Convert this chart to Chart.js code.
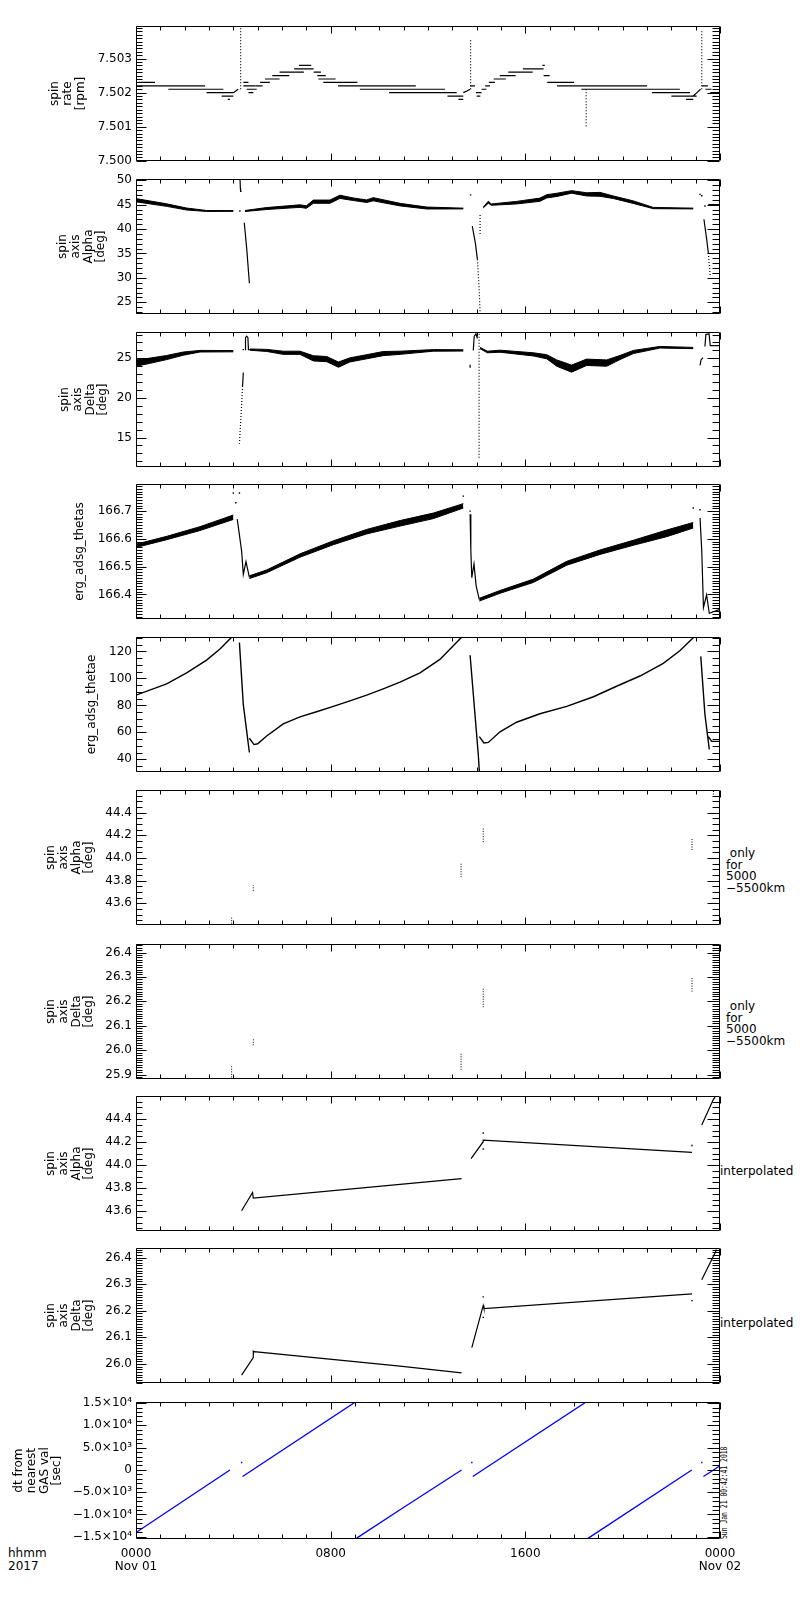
<!DOCTYPE html>
<html>
<head>
<meta charset="utf-8">
<script src="https://cdn.jsdelivr.net/npm/chart.js@4.4.1/dist/chart.umd.min.js"></script>
<style>
  body { margin: 0; background: #fff; width: 800px; height: 1600px; position: relative; overflow: hidden;
         font-family: "DejaVu Sans", sans-serif; color: #000; }
  canvas { position: absolute; left: 0; }
  .note { position: absolute; font-size: 12px; line-height: 11.5px; white-space: pre; }
  #stamp { position: absolute; left: 721px; top: 1539px; font: 8px "DejaVu Sans Mono", monospace;
           line-height: 7px; white-space: pre; transform-origin: left top; transform: rotate(-90deg) scaleX(0.8); }
</style>
</head>
<body>
<div class="note" style="left:8px; top:1547px; line-height:12.5px">hhmm
2017</div>
<div class="note" style="left:726px; top:848px"> only
for
5000
−5500km</div>
<div class="note" style="left:726px; top:1001px"> only
for
5000
−5500km</div>
<div class="note" style="left:720px; top:1166px">interpolated</div>
<div class="note" style="left:720px; top:1318px">interpolated</div>
<div id="stamp">Sun Jan 21 00:42:41 2018</div>

<script>
const FONT = "'DejaVu Sans', sans-serif";

// x axis: hours since 2017-11-01 00:00
const hourTicks = [0, 8, 16, 24];
const hourLabels = [["0000", "Nov 01"], ["0800"], ["1600"], ["0000", "Nov 02"]];

// spin rate [rpm] - quantised levels as [from h, to h, value]
const rateSteps = [
  [0, 2.84, 7.5022], [0.1, 0.78, 7.5023], [1.33, 3.59, 7.5021], [2.9, 4.0, 7.5020],
  [3.52, 4.0, 7.5019], [3.77, 3.86, 7.5018], [4.41, 4.62, 7.5023], [4.41, 4.89, 7.5022],
  [4.55, 4.96, 7.5021], [4.62, 4.82, 7.5020], [4.9, 5.2, 7.5022], [5.1, 5.5, 7.5023],
  [5.3, 5.9, 7.5024], [5.6, 6.3, 7.5025], [5.9, 6.9, 7.5026], [6.5, 7.3, 7.5027],
  [6.7, 7.2, 7.5028], [7.3, 7.6, 7.5026], [7.45, 7.8, 7.5025], [7.5, 8.2, 7.5024],
  [7.7, 9.1, 7.5023], [8.3, 11.5, 7.5022], [9.2, 12.7, 7.5021], [10.4, 13.18, 7.5020],
  [12.8, 13.45, 7.5019], [13.25, 13.45, 7.5018], [13.73, 13.93, 7.5022], [13.97, 14.2, 7.5020],
  [14.0, 14.15, 7.5019], [14.2, 14.4, 7.5021], [14.35, 14.55, 7.5022], [14.5, 14.75, 7.5023],
  [14.7, 15.2, 7.5024], [14.95, 15.6, 7.5025], [15.3, 16.3, 7.5026], [15.9, 16.75, 7.5027],
  [16.7, 16.8, 7.5028], [16.75, 17.0, 7.5025], [16.9, 18.0, 7.5023], [17.3, 21.0, 7.5022],
  [18.3, 22.35, 7.5021], [21.2, 22.77, 7.5020], [22.0, 23.04, 7.5019], [22.6, 22.9, 7.5018],
  [23.25, 23.5, 7.5022], [23.4, 23.65, 7.5021], [23.6, 24, 7.5020]
];
const rateRamps = [
  [[4.0, 7.5020], [4.1, 7.50205], [4.2, 7.5021]],
  [[13.45, 7.5020], [13.6, 7.50205], [13.73, 7.5021]],
  [[22.9, 7.5019], [23.05, 7.5020], [23.2, 7.5021]]
];
// [h, from, to]
const rateSpikes = [[4.30, 7.5021, 7.5039], [13.75, 7.5021, 7.5036], [18.5, 7.5021, 7.5010], [23.25, 7.5021, 7.5038]];

// spin axis alpha [deg] - noisy band as [h, low, high]
const alphaBands = [
  [[0, 45.57, 46.23], [1.26, 44.64, 45.16], [2.08, 43.9, 44.3], [2.9, 43.6, 43.8], [4.0, 43.62, 43.78]],
  [[4.48, 43.6, 43.8], [5.37, 44.0, 44.4], [6.74, 44.44, 44.96], [7.0, 44.24, 44.76], [7.29, 45.27, 45.93],
   [7.97, 45.27, 45.93], [8.38, 46.27, 46.93], [8.93, 45.84, 46.36], [9.48, 45.44, 45.96], [9.75, 45.77, 46.43],
   [10.85, 44.74, 45.26], [11.95, 44.1, 44.5], [13.45, 44.12, 44.28]],
  [[14.27, 44.32, 44.48], [14.48, 45.3, 45.7], [14.6, 44.87, 45.13], [15.64, 45.14, 45.66], [16.6, 45.67, 46.33],
   [16.88, 46.37, 47.03], [17.3, 46.67, 47.33], [17.9, 47.34, 47.86], [18.52, 46.77, 47.43], [19.07, 46.7, 47.5],
   [19.62, 46.24, 46.76], [20.44, 45.24, 45.76], [21.26, 44.17, 44.43], [22.9, 44.12, 44.28]]
];
const alphaLines = [
  [[4.27, 50.8], [4.29, 48.3], [4.30, 47.7], [4.34, 47.7]],
  [[4.45, 41.3], [4.55, 36.0], [4.66, 28.9]],
  [[13.82, 40.6], [13.95, 37.0], [14.03, 33.8]],
  [[23.34, 42.0], [23.45, 38.0], [23.52, 35.1]],
  [[23.52, 45.0], [24, 45.0]]
];
const alphaDashed = [
  [[14.03, 33.8], [14.1, 28.0], [14.14, 23.0]],
  [[14.14, 42.9], [14.14, 39.0]],
  [[23.52, 35.1], [23.6, 30.2]]
];
const alphaDots = [[4.27, 43.7], [13.75, 47.0], [23.18, 47.1], [23.25, 46.8], [23.38, 44.7]];

// spin axis delta [deg]
const deltaBands = [
  [[0, 24.0, 24.8], [0.58, 24.37, 25.03], [1.26, 24.84, 25.36], [1.95, 25.4, 25.8], [2.63, 25.8, 26.0], [4.0, 25.82, 25.98]],
  [[4.68, 26.02, 26.18], [5.37, 25.87, 26.13], [6.05, 25.5, 25.9], [6.74, 25.5, 25.9], [7.29, 24.67, 25.33],
   [7.84, 24.57, 25.23], [8.32, 23.87, 24.53], [8.79, 24.54, 25.06], [9.48, 24.94, 25.46], [10.16, 25.34, 25.86],
   [10.85, 25.5, 25.9], [12.22, 25.9, 26.1], [13.45, 25.92, 26.08]],
  [[14.14, 26.22, 26.38], [14.44, 25.7, 25.9], [14.96, 25.77, 26.03], [16.33, 25.3, 25.7], [16.88, 24.94, 25.46],
   [17.29, 24.0, 24.8], [17.9, 23.25, 24.15], [18.52, 24.1, 24.9], [19.34, 24.0, 24.8], [19.89, 24.84, 25.36],
   [20.44, 25.6, 26.0], [21.53, 26.3, 26.5], [22.9, 26.22, 26.38]]
];
const deltaLines = [
  [[4.41, 23.2], [4.38, 21.5]],
  [[4.48, 26.1], [4.50, 27.6], [4.55, 27.8], [4.60, 27.6], [4.62, 26.1], [4.68, 26.1]],
  [[13.73, 23.8], [13.73, 24.2]],
  [[13.86, 26.0], [13.90, 27.8], [13.97, 28.1], [14.03, 27.5]],
  [[23.18, 24.1], [23.22, 24.8], [23.30, 25.1]],
  [[23.38, 26.5], [23.42, 28.0], [23.55, 28.1], [23.60, 26.6], [24, 26.6]]
];
const deltaDashed = [
  [[4.38, 21.5], [4.32, 18.0], [4.25, 14.2]],
  [[14.1, 28.1], [14.1, 12.4]]
];
const deltaDots = [[4.41, 26.1]];

// erg_adsg_thetas
const thetasBands = [
  [[0, 166.569, 166.581], [1.26, 166.597, 166.609], [2.63, 166.630, 166.644], [4.0, 166.670, 166.686]],
  [[4.66, 166.457, 166.467], [5.37, 166.478, 166.488], [6.74, 166.534, 166.546], [8.11, 166.579, 166.593],
   [9.48, 166.618, 166.634], [10.85, 166.646, 166.666], [12.22, 166.673, 166.693], [13.45, 166.711, 166.727]],
  [[14.11, 166.376, 166.386], [14.96, 166.404, 166.414], [16.33, 166.443, 166.455], [17.7, 166.505, 166.519],
   [19.07, 166.544, 166.560], [20.44, 166.577, 166.595], [21.81, 166.608, 166.632], [22.9, 166.639, 166.659]]
];
const thetasLines = [
  [[4.16, 166.671], [4.34, 166.557], [4.41, 166.472], [4.52, 166.518], [4.66, 166.461]],
  [[13.73, 166.689], [13.76, 166.56], [13.8, 166.46], [13.89, 166.51], [13.98, 166.43], [14.11, 166.381]],
  [[23.18, 166.675], [23.25, 166.557], [23.32, 166.352], [23.45, 166.398], [23.56, 166.332], [24, 166.346]]
];
const thetasDots = [[4.0, 166.765], [4.25, 166.765], [4.1, 166.73], [13.45, 166.754], [13.73, 166.70], [22.9, 166.711], [23.18, 166.705]];

// erg_adsg_thetae
const thetaeLines = [
  [[0, 87.6], [1.26, 95.9], [2.08, 104.1], [2.9, 113.6], [3.45, 121.9], [3.93, 130.6]],
  [[4.25, 126.6], [4.41, 80.5], [4.66, 45.0]],
  [[4.66, 55.6], [4.85, 50.9], [5.0, 51.5], [5.37, 57.3], [6.05, 66.3], [6.74, 71.5], [7.42, 75.3],
   [8.11, 79.3], [8.79, 83.3], [9.48, 87.6], [10.16, 92.3], [10.85, 97.2], [11.67, 104.1],
   [12.49, 114.1], [13.04, 124.3], [13.38, 130.6]],
  [[13.73, 117.2], [13.93, 73.4], [14.07, 42.6], [14.11, 30.8]],
  [[14.11, 56.8], [14.3, 52.1], [14.48, 52.5], [14.96, 60.4], [15.64, 67.5], [16.6, 73.8], [17.7, 79.3],
   [18.8, 86.4], [19.75, 94.2], [20.71, 101.8], [21.67, 111.2], [22.36, 120.7], [22.9, 130.2]],
  [[23.21, 116.4], [23.38, 73.4], [23.56, 47.3]],
  [[23.52, 56.8], [23.66, 53.3], [24, 53.3]]
];

// spin axis alpha / delta only for 5000-5500 km: short runs [h, from, to]
const alphaShellRuns = [[3.93, 43.42, 43.48], [4.82, 43.71, 43.76], [13.36, 43.83, 43.96], [14.27, 44.14, 44.27], [22.85, 44.07, 44.17], [23.73, 44.56, 44.60]];
const deltaShellRuns = [[3.93, 25.889, 25.935], [4.82, 26.02, 26.048], [13.36, 25.92, 25.99], [14.27, 26.176, 26.252], [22.85, 26.24, 26.30], [23.73, 26.405, 26.42]];

// interpolated spin axis
const alphaInterp = [
  [[4.34, 43.604], [4.79, 43.763], [4.82, 43.713], [10.85, 43.833], [13.38, 43.883]],
  [[13.77, 44.056], [14.27, 44.203], [14.27, 44.217], [22.85, 44.111]],
  [[23.25, 44.348], [23.73, 44.571], [23.8, 44.59]]
];
const alphaInterpDots = [[14.27, 44.279], [14.27, 44.14], [22.85, 44.17]];
const deltaInterp = [
  [[4.34, 25.958], [4.82, 26.024], [4.82, 26.048], [4.85, 26.046], [10.85, 25.992], [13.38, 25.966]],
  [[13.8, 26.061], [14.27, 26.22], [14.3, 26.208], [22.85, 26.263]],
  [[23.25, 26.316], [23.8, 26.418], [23.85, 26.43]]
];
const deltaInterpDots = [[14.27, 26.252], [14.27, 26.175], [22.85, 26.238]];

// dt from nearest GAS value [sec]
const dtLines = [
  [[0, -14050], [3.86, 0]],
  [[4.38, -1460], [9.07, 15440]],
  [[9.07, -15300], [10.85, -8930], [13.38, 0]],
  [[13.84, -1460], [18.55, 15440]],
  [[18.59, -15300], [22.84, 0]],
  [[23.32, -1460], [24, 950]]
];
const dtDots = [[4.34, 1680], [13.8, 1680], [23.25, 1680]];

const stepLine = ([a, b, v]) => [[a, v], [b, v]];
const runLine = ([h, lo, hi]) => [[h, lo], [h, hi]];

function flat(polys) {
  const out = [];
  polys.forEach(p => {
    p.forEach(([x, y]) => out.push({x, y}));
    out.push({x: p[p.length - 1][0], y: null});
  });
  return out;
}

function lineSet(polys, color, width, dash) {
  return {data: flat(polys), borderColor: color, borderWidth: width, borderDash: dash || [],
          pointRadius: 0, spanGaps: false, fill: false, tension: 0};
}

function dotSet(pts, color) {
  return {data: pts.map(([x, y]) => ({x, y})), showLine: false, pointRadius: 1, pointStyle: 'rect',
          pointBackgroundColor: color, pointBorderWidth: 0};
}

function bandSets(bands) {
  const sets = [];
  bands.forEach(b => {
    sets.push({data: b.map(([x, lo]) => ({x, y: lo})), borderColor: '#000', borderWidth: 1, pointRadius: 0, fill: false});
    sets.push({data: b.map(([x, lo, hi]) => ({x, y: hi})), borderColor: '#000', borderWidth: 1, pointRadius: 0,
               fill: '-1', backgroundColor: '#000'});
  });
  return sets;
}

const sup = {3: '³', 4: '⁴'};
function sciLabel(v) {
  if (Math.abs(v) < 1e-6) return '0';
  const e = Math.floor(Math.log10(Math.abs(v)) + 1e-9);
  const m = Math.abs(v) / Math.pow(10, e);
  return (v < 0 ? '−' : '') + m.toFixed(1) + '×10' + sup[e];
}

const panels = [
  {title: ['spin', 'rate', '[rpm]'], min: 7.5, max: 7.50395, major: 0.001, minor: 0.0001, digits: 3, pad: 49,
   sets: [lineSet(rateSteps.map(stepLine).concat(rateRamps), '#000', 1.2),
          lineSet(rateSpikes.map(runLine), '#000', 1.2, [1, 2])]},
  {title: ['spin', 'axis', 'Alpha', '[deg]'], min: 22.66, max: 50.2, major: 5, minor: 1, digits: 0, pad: 57,
   sets: [...bandSets(alphaBands), lineSet(alphaLines, '#000', 1.2), lineSet(alphaDashed, '#000', 1.2, [1, 2]), dotSet(alphaDots, '#000')]},
  {title: ['spin', 'axis', 'Delta', '[deg]'], min: 11.3, max: 28.3, major: 5, minor: 1, digits: 0, pad: 59,
   sets: [...bandSets(deltaBands), lineSet(deltaLines, '#000', 1.2), lineSet(deltaDashed, '#000', 1.2, [1, 2]), dotSet(deltaDots, '#000')]},
  {title: 'erg_adsg_thetas', min: 166.312, max: 166.797, major: 0.1, minor: 0.01, digits: 1, pad: 74,
   sets: [...bandSets(thetasBands), lineSet(thetasLines, '#000', 1.2), dotSet(thetasDots, '#000')]},
  {title: 'erg_adsg_thetae', min: 30.7, max: 130.6, major: 20, minor: 5, digits: 0, pad: 86,
   sets: [lineSet(thetaeLines, '#000', 1.4)]},
  {title: ['spin', 'axis', 'Alpha', '[deg]'], min: 43.41, max: 44.598, major: 0.2, minor: 0.05, digits: 1, pad: 45,
   sets: [lineSet(alphaShellRuns.map(runLine), '#000', 1, [1, 1.5])]},
  {title: ['spin', 'axis', 'Delta', '[deg]'], min: 25.883, max: 26.434, major: 0.1, minor: 0.01, digits: 1, pad: 45,
   sets: [lineSet(deltaShellRuns.map(runLine), '#000', 1, [1, 1.5])]},
  {title: ['spin', 'axis', 'Alpha', '[deg]'], min: 43.43, max: 44.598, major: 0.2, minor: 0.05, digits: 1, pad: 45,
   sets: [lineSet(alphaInterp, '#000', 1.2), dotSet(alphaInterpDots, '#000')]},
  {title: ['spin', 'axis', 'Delta', '[deg]'], min: 25.929, max: 26.435, major: 0.1, minor: 0.01, digits: 1, pad: 45,
   sets: [lineSet(deltaInterp, '#000', 1.2), dotSet(deltaInterpDots, '#000')]},
  {title: ['dt from', 'nearest', 'GAS val', '[sec]'], min: -15500, max: 15200, major: 5000, minor: 1000, fmt: sciLabel, pad: 13,
   sets: [lineSet(dtLines, '#0000ff', 1.3), dotSet(dtDots, '#0000ff')]}
];

const tops = [23, 176, 329, 481, 634, 787, 941, 1093, 1245, 1399];

// IDL style frame with inward ticks on all four sides
const idlAxes = {
  id: 'idlAxes',
  afterDraw(chart, args, o) {
    const {ctx, chartArea: a} = chart;
    const x = chart.scales.x, y = chart.scales.y;
    const L = Math.round(a.left) + 0.5, R = Math.round(a.right) - 0.5;
    const T = Math.round(a.top) + 0.5, B = Math.round(a.bottom) - 0.5;
    ctx.save();
    ctx.strokeStyle = '#000';
    ctx.lineWidth = 1;
    ctx.beginPath();
    ctx.rect(L, T, R - L, B - T);
    for (let h = 0; h <= 24; h++) {
      const px = Math.round(x.getPixelForValue(h)) + 0.5;
      const len = h % 8 === 0 ? 7 : 4;
      ctx.moveTo(px, B); ctx.lineTo(px, B - len);
      ctx.moveTo(px, T); ctx.lineTo(px, T + len);
    }
    const k0 = Math.ceil(y.min / o.minor - 1e-6), k1 = Math.floor(y.max / o.minor + 1e-6);
    for (let k = k0; k <= k1; k++) {
      const v = k * o.minor;
      const r = v / o.major;
      const major = Math.abs(r - Math.round(r)) < 1e-3;
      const py = Math.round(y.getPixelForValue(v)) + 0.5;
      ctx.moveTo(L, py); ctx.lineTo(L + (major ? 10 : 6), py);
      ctx.moveTo(R, py); ctx.lineTo(R - (major ? 12 : 7), py);
    }
    ctx.stroke();
    ctx.restore();
  }
};

// labelled y ticks at whole multiples of the major step
function majorTicks(scale, step) {
  const ticks = [];
  for (let k = Math.ceil(scale.min / step - 1e-6); k * step <= scale.max + 1e-9; k++) {
    ticks.push({value: +(k * step).toFixed(6)});
  }
  scale.ticks = ticks;
}

panels.forEach((p, i) => {
  const last = i === panels.length - 1;
  const h = last ? 140 : 141;
  const cv = document.createElement('canvas');
  cv.width = 800;
  cv.height = h + 16 + (last ? 52 : 0);
  cv.style.top = (tops[i] - 8) + 'px';
  document.body.appendChild(cv);

  new Chart(cv, {
    type: 'line',
    data: {datasets: p.sets},
    options: {
      responsive: false,
      animation: false,
      events: [],
      layout: {padding: {left: p.pad, right: 80, top: 8, bottom: last ? 0 : 8}},
      plugins: {legend: {display: false}, tooltip: {enabled: false}, idlAxes: {major: p.major, minor: p.minor}},
      scales: {
        x: {
          type: 'linear', min: 0, max: 24,
          grid: {display: false, drawTicks: false}, border: {display: false},
          ticks: {display: last, autoSkip: false, maxRotation: 0, padding: 8, color: '#000',
                  font: {family: FONT, size: 12, lineHeight: 1.1},
                  callback: v => { const k = hourTicks.indexOf(v); return k < 0 ? '' : hourLabels[k]; }},
          afterBuildTicks: s => { s.ticks = hourTicks.map(v => ({value: v})); },
          afterFit: s => { s.height = last ? 60 : 0; }
        },
        y: {
          min: p.min, max: p.max,
          grid: {display: false, drawTicks: false}, border: {display: false},
          ticks: {autoSkip: false, padding: 4, color: '#000', font: {family: FONT, size: 12},
                  callback: v => p.fmt ? p.fmt(v) : v.toFixed(p.digits)},
          afterBuildTicks: s => majorTicks(s, p.major),
          title: {display: true, text: p.title, color: '#000', padding: 0,
                  font: {family: FONT, size: 12, lineHeight: 1.05}},
          afterFit: s => { s.width = 136 - p.pad; }
        }
      }
    },
    plugins: [idlAxes]
  });
});
</script>
</body>
</html>
